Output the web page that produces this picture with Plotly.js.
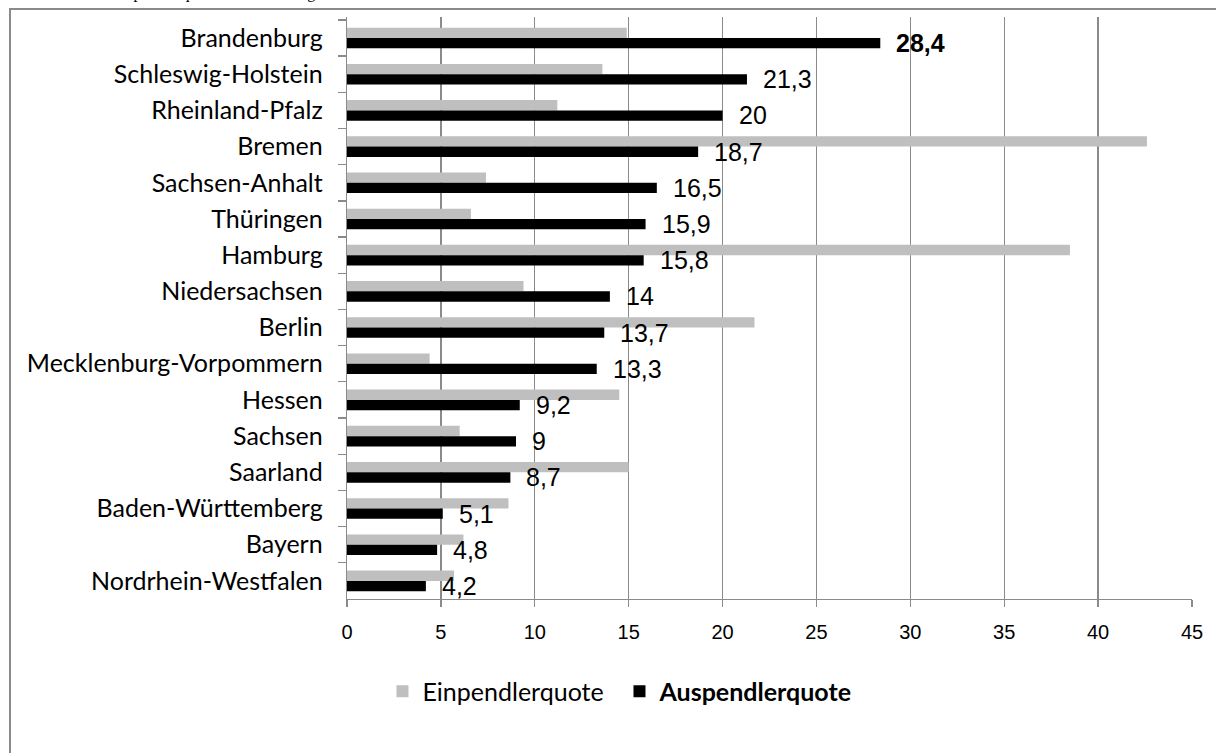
<!DOCTYPE html>
<html>
<head>
<meta charset="utf-8">
<script src="https://cdn.plot.ly/plotly-3.0.1.min.js"></script>
<style>
  html, body { margin: 0; padding: 0; background: #ffffff; overflow: hidden; }
  #frame { position: absolute; left: 9px; top: 8px; width: 1300px; height: 900px;
           border: 2px solid #8a8a8a; box-sizing: border-box; }
  #chart { position: absolute; left: 0; top: 0; width: 1216px; height: 753px; }
</style>
</head>
<body>
<div id="frame"></div>
<div id="chart"></div>
<script>
const laender = ["Brandenburg", "Schleswig-Holstein", "Rheinland-Pfalz", "Bremen",
  "Sachsen-Anhalt", "Thüringen", "Hamburg", "Niedersachsen", "Berlin",
  "Mecklenburg-Vorpommern", "Hessen", "Sachsen", "Saarland",
  "Baden-Württemberg", "Bayern", "Nordrhein-Westfalen"];
const einpendlerquote = [14.9, 13.6, 11.2, 42.6, 7.4, 6.6, 38.5, 9.4, 21.7, 4.4, 14.5, 6.0, 15.0, 8.6, 6.2, 5.7];
const auspendlerquote = [28.4, 21.3, 20, 18.7, 16.5, 15.9, 15.8, 14, 13.7, 13.3, 9.2, 9, 8.7, 5.1, 4.8, 4.2];
const xTicks = [0, 5, 10, 15, 20, 25, 30, 35, 40, 45];

const fmt = v => String(v).replace('.', ',');
const maxAus = Math.max(...auspendlerquote);

const traces = [
  { type: 'bar', orientation: 'h', name: 'Einpendlerquote',
    y: laender, x: einpendlerquote, marker: { color: '#bfbfbf' }, hoverinfo: 'skip' },
  { type: 'bar', orientation: 'h', name: '<b>Auspendlerquote</b>',
    y: laender, x: auspendlerquote, marker: { color: '#000000' }, hoverinfo: 'skip' }
];

const annotations = auspendlerquote.map((v, i) => ({
  x: v, y: laender[i], xref: 'x', yref: 'y',
  text: v === maxAus ? '<b>' + fmt(v) + '</b>' : fmt(v),
  showarrow: false, xanchor: 'left', yanchor: 'middle',
  xshift: 14, yshift: -5,
  font: { family: 'Liberation Sans, Arial, sans-serif', size: 25, color: '#000000' }
}));

annotations.push({
  xref: 'paper', yref: 'paper', x: -0.355, y: 1.022, xanchor: 'left', yanchor: 'bottom',
  text: 'Ein- und Auspendlerquote im Ländervergleich', showarrow: false,
  font: { family: 'Liberation Serif, Times New Roman, serif', size: 16, color: '#000000' }
});

const layout = {
  width: 1216, height: 753,
  margin: { l: 347, r: 24, t: 17, b: 154, pad: 0 },
  paper_bgcolor: 'rgba(0,0,0,0)', plot_bgcolor: 'rgba(0,0,0,0)',
  barmode: 'group', bargap: 0.43, bargroupgap: 0,
  showlegend: true,
  legend: {
    orientation: 'h', x: 0.042, xanchor: 'left', y: -0.159, yanchor: 'middle',
    font: { family: 'Lato, sans-serif', size: 25, color: '#000000' },
    itemwidth: 30, traceorder: 'normal', bgcolor: 'rgba(0,0,0,0)',
    entrywidth: 192, entrywidthmode: 'pixels'
  },
  xaxis: {
    range: [0, 45], tickvals: xTicks, ticktext: xTicks.map(String),
    showgrid: true, gridcolor: '#8a8a8a', gridwidth: 1.3, zeroline: false,
    showline: true, linecolor: '#8a8a8a', linewidth: 1.3,
    ticks: 'outside', ticklen: 7, tickcolor: '#8a8a8a', tickwidth: 1.3,
    tickfont: { family: 'Liberation Sans, Arial, sans-serif', size: 20, color: '#000000' },
    ticklabelstandoff: 8, fixedrange: true
  },
  yaxis: {
    type: 'category', autorange: 'reversed',
    showgrid: false, zeroline: false,
    showline: true, linecolor: '#8a8a8a', linewidth: 1.3,
    ticks: 'outside', tickson: 'boundaries', ticklen: 8, tickcolor: '#8a8a8a', tickwidth: 1.3,
    tickfont: { family: 'Lato, sans-serif', size: 25, color: '#000000' },
    ticklabelstandoff: 18, fixedrange: true
  },
  annotations: annotations
};

Plotly.newPlot('chart', traces, layout, { displayModeBar: false, staticPlot: true });
</script>
</body>
</html>
